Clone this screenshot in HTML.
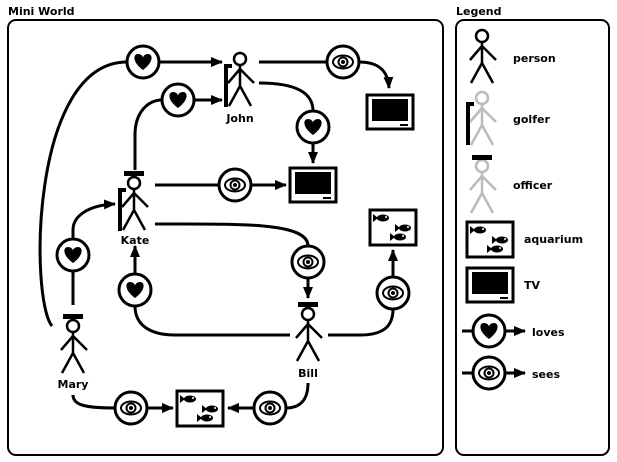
<!DOCTYPE html>
<html><head><style>
html,body{margin:0;padding:0;background:#fff;}
svg{display:block;}
text{font-family:"DejaVu Sans","Liberation Sans",sans-serif;font-weight:bold;font-size:11px;fill:#000;}
</style></head><body>
<svg width="617" height="462" viewBox="0 0 617 462" xmlns="http://www.w3.org/2000/svg">
<defs>
<marker id="ar" markerWidth="12" markerHeight="10" refX="11" refY="5" orient="auto" markerUnits="userSpaceOnUse">
<path d="M0,0 L12,5 L0,10Z" fill="#000"/></marker>
<g id="heart"><circle r="16" fill="#fff" stroke="#000" stroke-width="3"/>
<path d="M0,8 C-11,0 -10,-8 -5,-8 C-2,-8 0,-6 0,-4 C0,-6 2,-8 5,-8 C10,-8 11,0 0,8Z" fill="#000"/></g>
<g id="eye"><circle r="16" fill="#fff" stroke="#000" stroke-width="3"/>
<ellipse rx="10" ry="6.5" fill="none" stroke="#000" stroke-width="2"/>
<circle r="4.5" fill="none" stroke="#000" stroke-width="2"/><circle r="2" fill="#000"/></g>
<g id="tv"><rect x="0" y="0" width="46" height="34" fill="#fff" stroke="#000" stroke-width="3"/>
<rect x="5" y="4" width="36" height="22" fill="#000"/><rect x="33" y="29" width="8" height="2" fill="#000"/></g>
<g id="fish"><ellipse cx="0" cy="0" rx="6" ry="3.5" fill="#000"/><path d="M-5,0 L-10,-4 L-10,4Z" fill="#000"/><circle cx="3" cy="-1" r="1" fill="#fff"/></g>
<g id="aq"><rect x="0" y="0" width="46" height="35" fill="#fff" stroke="#000" stroke-width="3"/>
<use href="#fish" x="13" y="8"/><use href="#fish" x="35" y="18"/><use href="#fish" x="30" y="27"/></g>
<g id="body" fill="none" stroke-width="2.5">
<circle cx="0" cy="0" r="6"/><path d="M0,6 V27 M0,10 L-12,24 M0,10 L14,24 M0,27 L-11,47 M0,27 L11,47"/></g>
<g id="club"><rect x="-16" y="5" width="4" height="43" fill="#000"/><rect x="-16" y="5" width="8" height="4" fill="#000"/></g>
<g id="hat"><rect x="-10" y="-12" width="20" height="5" fill="#000"/></g>
</defs>

<text x="8" y="15">Mini World</text>
<rect x="8" y="20" width="435" height="435" rx="8" fill="none" stroke="#000" stroke-width="2"/>
<text x="456" y="15">Legend</text>
<rect x="456" y="20" width="153" height="435" rx="8" fill="none" stroke="#000" stroke-width="2"/>

<g fill="none" stroke="#000" stroke-width="3">
<path d="M52,326 C30,300 30,62 127,62"/>
<path d="M159,62 H222" marker-end="url(#ar)"/>
<path d="M135,170 V135 C135,110 150,100 162,100"/>
<path d="M194,100 H222" marker-end="url(#ar)"/>
<path d="M259,62 H327"/>
<path d="M359,62 C378,62 388,70 389,88" marker-end="url(#ar)"/>
<path d="M259,83 C295,83 313,92 313,111"/>
<path d="M313,143 V163" marker-end="url(#ar)"/>
<path d="M155,185 H219"/>
<path d="M251,185 H286" marker-end="url(#ar)"/>
<path d="M155,224 C240,224 308,222 308,246"/>
<path d="M308,278 V298" marker-end="url(#ar)"/>
<path d="M290,335 H175 C150,335 135,325 135,306"/>
<path d="M135,274 V246" marker-end="url(#ar)"/>
<path d="M328,335 H360 C385,335 393,325 393,309"/>
<path d="M393,277 V250" marker-end="url(#ar)"/>
<path d="M73,305 V271"/>
<path d="M73,239 V230 C73,215 90,205 115,204" marker-end="url(#ar)"/>
<path d="M73,395 C73,405 85,408 115,408"/>
<path d="M147,408 H173" marker-end="url(#ar)"/>
<path d="M308,383 C308,400 300,408 286,408"/>
<path d="M254,408 H228" marker-end="url(#ar)"/>
<path d="M462,331 H525" marker-end="url(#ar)"/>
<path d="M462,373 H525" marker-end="url(#ar)"/>
</g>

<use href="#heart" x="143" y="62"/>
<use href="#heart" x="178" y="100"/>
<use href="#heart" x="313" y="127"/>
<use href="#heart" x="73" y="255"/>
<use href="#heart" x="135" y="290"/>
<use href="#eye" x="343" y="62"/>
<use href="#eye" x="235" y="185"/>
<use href="#eye" x="308" y="262"/>
<use href="#eye" x="393" y="293"/>
<use href="#eye" x="131" y="408"/>
<use href="#eye" x="270" y="408"/>
<use href="#tv" x="367" y="95"/>
<use href="#tv" x="290" y="168"/>
<use href="#aq" x="370" y="210"/>
<use href="#aq" x="177" y="391"/>

<use href="#body" x="240" y="59" stroke="#000"/><use href="#club" x="240" y="59"/>
<text x="240" y="122" text-anchor="middle">John</text>
<use href="#body" x="134" y="183" stroke="#000"/><use href="#club" x="134" y="183"/><use href="#hat" x="134" y="183"/>
<text x="135" y="244" text-anchor="middle">Kate</text>
<use href="#body" x="73" y="326" stroke="#000"/><use href="#hat" x="73" y="326"/>
<text x="73" y="388" text-anchor="middle">Mary</text>
<use href="#body" x="308" y="314" stroke="#000"/><use href="#hat" x="308" y="314"/>
<text x="308" y="377" text-anchor="middle">Bill</text>

<use href="#body" x="482" y="36" stroke="#000"/>
<text x="513" y="62">person</text>
<use href="#body" x="482" y="98" stroke="#bbb"/><use href="#club" x="482" y="97"/>
<text x="513" y="123">golfer</text>
<use href="#body" x="482" y="166" stroke="#bbb"/><use href="#hat" x="482" y="167"/>
<text x="513" y="189">officer</text>
<use href="#aq" x="467" y="222"/>
<text x="524" y="243">aquarium</text>
<use href="#tv" x="467" y="268"/>
<text x="524" y="289">TV</text>
<use href="#heart" x="489" y="331"/>
<text x="532" y="336">loves</text>
<use href="#eye" x="489" y="373"/>
<text x="532" y="378">sees</text>
</svg>
</body></html>
